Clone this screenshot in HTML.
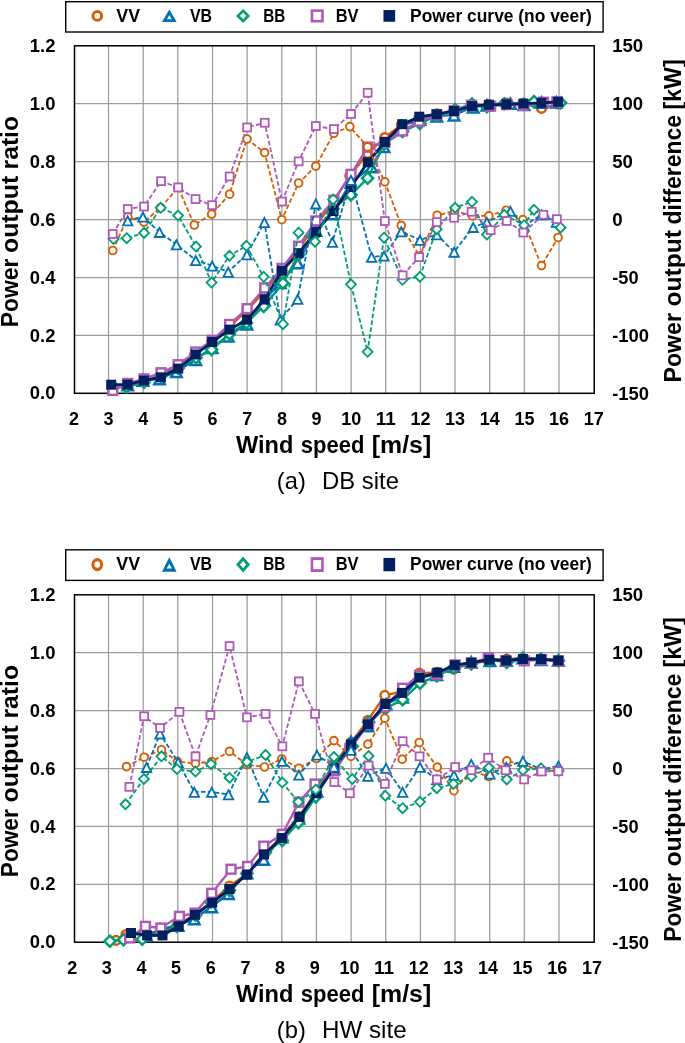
<!DOCTYPE html>
<html><head><meta charset="utf-8"><title>Power output ratio charts</title>
<style>
html,body{margin:0;padding:0;background:#fff;overflow:hidden}
svg{display:block;will-change:transform}
text{font-family:"Liberation Sans",sans-serif;fill:#000}
</style></head>
<body>
<svg width="685" height="1043" viewBox="0 0 685 1043">
<rect width="685" height="1043" fill="#fff"/>
<path d="M108.5,45.8V393.3M143.2,45.8V393.3M177.8,45.8V393.3M212.5,45.8V393.3M247.1,45.8V393.3M281.8,45.8V393.3M316.4,45.8V393.3M351.1,45.8V393.3M385.7,45.8V393.3M420.4,45.8V393.3M455.0,45.8V393.3M489.7,45.8V393.3M524.3,45.8V393.3M559.0,45.8V393.3M74.5,103.7H594.2M74.5,161.6H594.2M74.5,219.6H594.2M74.5,277.5H594.2M74.5,335.4H594.2" stroke="#9c9c9c" stroke-width="1.25" fill="none"/>
<rect x="74.5" y="45.8" width="519.7" height="347.5" fill="none" stroke="#000" stroke-width="1.5"/>
<path d="M112.8,388.4 L127.8,384.4 L143.9,380.8 L160.7,375.9 L178.2,364.8 L194.3,355.2 L211.7,341.4 L229.6,326.6 L247.0,310.1 L264.6,291.5 L281.8,270.6 L298.6,248.8 L315.8,225.7 L333.9,200.7 L349.8,175.9 L367.6,153.6 L384.8,137.5 L401.3,124.9 L419.4,121.1 L437.2,113.8 L454.6,110.0 L472.5,105.7 L488.9,104.4 L506.2,103.2 L522.9,103.6 L541.5,108.4 L558.1,104.0" fill="none" stroke="#D55E00" stroke-width="2.4" stroke-linejoin="round"/><circle cx="112.8" cy="388.4" r="4.31" fill="#fff" stroke="#D55E00" stroke-width="2.55"/><circle cx="127.8" cy="384.4" r="4.31" fill="#fff" stroke="#D55E00" stroke-width="2.55"/><circle cx="143.9" cy="380.8" r="4.31" fill="#fff" stroke="#D55E00" stroke-width="2.55"/><circle cx="160.7" cy="375.9" r="4.31" fill="#fff" stroke="#D55E00" stroke-width="2.55"/><circle cx="178.2" cy="364.8" r="4.31" fill="#fff" stroke="#D55E00" stroke-width="2.55"/><circle cx="194.3" cy="355.2" r="4.31" fill="#fff" stroke="#D55E00" stroke-width="2.55"/><circle cx="211.7" cy="341.4" r="4.31" fill="#fff" stroke="#D55E00" stroke-width="2.55"/><circle cx="229.6" cy="326.6" r="4.31" fill="#fff" stroke="#D55E00" stroke-width="2.55"/><circle cx="247.0" cy="310.1" r="4.31" fill="#fff" stroke="#D55E00" stroke-width="2.55"/><circle cx="264.6" cy="291.5" r="4.31" fill="#fff" stroke="#D55E00" stroke-width="2.55"/><circle cx="281.8" cy="270.6" r="4.31" fill="#fff" stroke="#D55E00" stroke-width="2.55"/><circle cx="298.6" cy="248.8" r="4.31" fill="#fff" stroke="#D55E00" stroke-width="2.55"/><circle cx="315.8" cy="225.7" r="4.31" fill="#fff" stroke="#D55E00" stroke-width="2.55"/><circle cx="333.9" cy="200.7" r="4.31" fill="#fff" stroke="#D55E00" stroke-width="2.55"/><circle cx="349.8" cy="175.9" r="4.31" fill="#fff" stroke="#D55E00" stroke-width="2.55"/><circle cx="367.6" cy="153.6" r="4.31" fill="#fff" stroke="#D55E00" stroke-width="2.55"/><circle cx="384.8" cy="137.5" r="4.31" fill="#fff" stroke="#D55E00" stroke-width="2.55"/><circle cx="401.3" cy="124.9" r="4.31" fill="#fff" stroke="#D55E00" stroke-width="2.55"/><circle cx="419.4" cy="121.1" r="4.31" fill="#fff" stroke="#D55E00" stroke-width="2.55"/><circle cx="437.2" cy="113.8" r="4.31" fill="#fff" stroke="#D55E00" stroke-width="2.55"/><circle cx="454.6" cy="110.0" r="4.31" fill="#fff" stroke="#D55E00" stroke-width="2.55"/><circle cx="472.5" cy="105.7" r="4.31" fill="#fff" stroke="#D55E00" stroke-width="2.55"/><circle cx="488.9" cy="104.4" r="4.31" fill="#fff" stroke="#D55E00" stroke-width="2.55"/><circle cx="506.2" cy="103.2" r="4.31" fill="#fff" stroke="#D55E00" stroke-width="2.55"/><circle cx="522.9" cy="103.6" r="4.31" fill="#fff" stroke="#D55E00" stroke-width="2.55"/><circle cx="541.5" cy="108.4" r="4.31" fill="#fff" stroke="#D55E00" stroke-width="2.55"/><circle cx="558.1" cy="104.0" r="4.31" fill="#fff" stroke="#D55E00" stroke-width="2.55"/>
<path d="M127.7,384.8 L142.9,380.2 L159.5,378.8 L176.4,371.6 L195.7,359.4 L212.2,347.6 L228.2,335.9 L246.9,323.9 L264.4,299.8 L280.3,282.6 L297.7,262.8 L315.8,230.2 L332.4,213.7 L351.0,182.3 L371.6,166.8 L384.0,146.4 L401.3,125.7 L419.9,119.2 L436.7,116.1 L454.1,114.9 L473.2,107.0 L486.9,105.1 L510.4,103.3 L524.0,104.4 L541.5,102.2 L556.4,102.1" fill="none" stroke="#0072B2" stroke-width="2.4" stroke-linejoin="round"/><path d="M127.7,380.1l5.26,10.19h-10.53z" fill="#fff" stroke="#0072B2" stroke-width="2.5"/><path d="M142.9,375.5l5.26,10.19h-10.53z" fill="#fff" stroke="#0072B2" stroke-width="2.5"/><path d="M159.5,374.1l5.26,10.19h-10.53z" fill="#fff" stroke="#0072B2" stroke-width="2.5"/><path d="M176.4,366.9l5.26,10.19h-10.53z" fill="#fff" stroke="#0072B2" stroke-width="2.5"/><path d="M195.7,354.7l5.26,10.19h-10.53z" fill="#fff" stroke="#0072B2" stroke-width="2.5"/><path d="M212.2,342.9l5.26,10.19h-10.53z" fill="#fff" stroke="#0072B2" stroke-width="2.5"/><path d="M228.2,331.2l5.26,10.19h-10.53z" fill="#fff" stroke="#0072B2" stroke-width="2.5"/><path d="M246.9,319.2l5.26,10.19h-10.53z" fill="#fff" stroke="#0072B2" stroke-width="2.5"/><path d="M264.4,295.1l5.26,10.19h-10.53z" fill="#fff" stroke="#0072B2" stroke-width="2.5"/><path d="M280.3,277.9l5.26,10.19h-10.53z" fill="#fff" stroke="#0072B2" stroke-width="2.5"/><path d="M297.7,258.1l5.26,10.19h-10.53z" fill="#fff" stroke="#0072B2" stroke-width="2.5"/><path d="M315.8,225.5l5.26,10.19h-10.53z" fill="#fff" stroke="#0072B2" stroke-width="2.5"/><path d="M332.4,209.0l5.26,10.19h-10.53z" fill="#fff" stroke="#0072B2" stroke-width="2.5"/><path d="M351.0,177.6l5.26,10.19h-10.53z" fill="#fff" stroke="#0072B2" stroke-width="2.5"/><path d="M371.6,162.1l5.26,10.19h-10.53z" fill="#fff" stroke="#0072B2" stroke-width="2.5"/><path d="M384.0,141.7l5.26,10.19h-10.53z" fill="#fff" stroke="#0072B2" stroke-width="2.5"/><path d="M401.3,121.0l5.26,10.19h-10.53z" fill="#fff" stroke="#0072B2" stroke-width="2.5"/><path d="M419.9,114.5l5.26,10.19h-10.53z" fill="#fff" stroke="#0072B2" stroke-width="2.5"/><path d="M436.7,111.4l5.26,10.19h-10.53z" fill="#fff" stroke="#0072B2" stroke-width="2.5"/><path d="M454.1,110.2l5.26,10.19h-10.53z" fill="#fff" stroke="#0072B2" stroke-width="2.5"/><path d="M473.2,102.3l5.26,10.19h-10.53z" fill="#fff" stroke="#0072B2" stroke-width="2.5"/><path d="M486.9,100.4l5.26,10.19h-10.53z" fill="#fff" stroke="#0072B2" stroke-width="2.5"/><path d="M510.4,98.6l5.26,10.19h-10.53z" fill="#fff" stroke="#0072B2" stroke-width="2.5"/><path d="M524.0,99.7l5.26,10.19h-10.53z" fill="#fff" stroke="#0072B2" stroke-width="2.5"/><path d="M541.5,97.5l5.26,10.19h-10.53z" fill="#fff" stroke="#0072B2" stroke-width="2.5"/><path d="M556.4,97.4l5.26,10.19h-10.53z" fill="#fff" stroke="#0072B2" stroke-width="2.5"/>
<path d="M113.6,387.1 L126.7,387.0 L144.1,382.1 L160.7,375.9 L178.1,368.1 L196.0,357.8 L211.6,349.6 L229.5,334.0 L246.4,322.9 L263.7,306.4 L283.0,283.2 L298.6,254.8 L315.0,234.8 L333.1,208.6 L351.0,194.8 L367.6,178.2 L384.0,144.2 L402.5,131.5 L419.9,123.6 L436.7,115.5 L455.1,109.6 L472.0,104.0 L486.9,106.6 L504.2,103.7 L524.1,104.3 L534.0,101.6 L560.6,102.8" fill="none" stroke="#009E73" stroke-width="2.4" stroke-linejoin="round"/><path d="M113.6,381.5l5.54,5.54l-5.54,5.54l-5.54,-5.54z" fill="#fff" stroke="#009E73" stroke-width="2.5"/><path d="M126.7,381.4l5.54,5.54l-5.54,5.54l-5.54,-5.54z" fill="#fff" stroke="#009E73" stroke-width="2.5"/><path d="M144.1,376.6l5.54,5.54l-5.54,5.54l-5.54,-5.54z" fill="#fff" stroke="#009E73" stroke-width="2.5"/><path d="M160.7,370.4l5.54,5.54l-5.54,5.54l-5.54,-5.54z" fill="#fff" stroke="#009E73" stroke-width="2.5"/><path d="M178.1,362.6l5.54,5.54l-5.54,5.54l-5.54,-5.54z" fill="#fff" stroke="#009E73" stroke-width="2.5"/><path d="M196.0,352.2l5.54,5.54l-5.54,5.54l-5.54,-5.54z" fill="#fff" stroke="#009E73" stroke-width="2.5"/><path d="M211.6,344.0l5.54,5.54l-5.54,5.54l-5.54,-5.54z" fill="#fff" stroke="#009E73" stroke-width="2.5"/><path d="M229.5,328.4l5.54,5.54l-5.54,5.54l-5.54,-5.54z" fill="#fff" stroke="#009E73" stroke-width="2.5"/><path d="M246.4,317.3l5.54,5.54l-5.54,5.54l-5.54,-5.54z" fill="#fff" stroke="#009E73" stroke-width="2.5"/><path d="M263.7,300.9l5.54,5.54l-5.54,5.54l-5.54,-5.54z" fill="#fff" stroke="#009E73" stroke-width="2.5"/><path d="M283.0,277.6l5.54,5.54l-5.54,5.54l-5.54,-5.54z" fill="#fff" stroke="#009E73" stroke-width="2.5"/><path d="M298.6,249.3l5.54,5.54l-5.54,5.54l-5.54,-5.54z" fill="#fff" stroke="#009E73" stroke-width="2.5"/><path d="M315.0,229.2l5.54,5.54l-5.54,5.54l-5.54,-5.54z" fill="#fff" stroke="#009E73" stroke-width="2.5"/><path d="M333.1,203.1l5.54,5.54l-5.54,5.54l-5.54,-5.54z" fill="#fff" stroke="#009E73" stroke-width="2.5"/><path d="M351.0,189.3l5.54,5.54l-5.54,5.54l-5.54,-5.54z" fill="#fff" stroke="#009E73" stroke-width="2.5"/><path d="M367.6,172.7l5.54,5.54l-5.54,5.54l-5.54,-5.54z" fill="#fff" stroke="#009E73" stroke-width="2.5"/><path d="M384.0,138.7l5.54,5.54l-5.54,5.54l-5.54,-5.54z" fill="#fff" stroke="#009E73" stroke-width="2.5"/><path d="M402.5,125.9l5.54,5.54l-5.54,5.54l-5.54,-5.54z" fill="#fff" stroke="#009E73" stroke-width="2.5"/><path d="M419.9,118.0l5.54,5.54l-5.54,5.54l-5.54,-5.54z" fill="#fff" stroke="#009E73" stroke-width="2.5"/><path d="M436.7,109.9l5.54,5.54l-5.54,5.54l-5.54,-5.54z" fill="#fff" stroke="#009E73" stroke-width="2.5"/><path d="M455.1,104.1l5.54,5.54l-5.54,5.54l-5.54,-5.54z" fill="#fff" stroke="#009E73" stroke-width="2.5"/><path d="M472.0,98.5l5.54,5.54l-5.54,5.54l-5.54,-5.54z" fill="#fff" stroke="#009E73" stroke-width="2.5"/><path d="M486.9,101.1l5.54,5.54l-5.54,5.54l-5.54,-5.54z" fill="#fff" stroke="#009E73" stroke-width="2.5"/><path d="M504.2,98.2l5.54,5.54l-5.54,5.54l-5.54,-5.54z" fill="#fff" stroke="#009E73" stroke-width="2.5"/><path d="M524.1,98.8l5.54,5.54l-5.54,5.54l-5.54,-5.54z" fill="#fff" stroke="#009E73" stroke-width="2.5"/><path d="M534.0,96.1l5.54,5.54l-5.54,5.54l-5.54,-5.54z" fill="#fff" stroke="#009E73" stroke-width="2.5"/><path d="M560.6,97.3l5.54,5.54l-5.54,5.54l-5.54,-5.54z" fill="#fff" stroke="#009E73" stroke-width="2.5"/>
<path d="M112.8,390.4 L127.7,383.5 L144.0,379.0 L161.0,372.7 L178.1,364.8 L195.5,352.1 L212.1,340.3 L229.6,324.5 L247.1,308.7 L264.7,287.9 L282.0,268.5 L298.6,246.2 L315.8,220.9 L333.9,200.2 L351.0,174.4 L367.6,147.1 L384.8,142.2 L402.6,130.9 L419.1,121.2 L436.7,114.6 L454.1,110.8 L471.5,105.2 L490.6,106.1 L506.7,104.5 L523.4,105.2 L543.5,102.2 L556.9,101.8" fill="none" stroke="#AF58BA" stroke-width="2.4" stroke-linejoin="round"/><rect x="108.4" y="386.0" width="8.85" height="8.85" fill="#fff" stroke="#AF58BA" stroke-width="2.45"/><rect x="123.3" y="379.0" width="8.85" height="8.85" fill="#fff" stroke="#AF58BA" stroke-width="2.45"/><rect x="139.6" y="374.5" width="8.85" height="8.85" fill="#fff" stroke="#AF58BA" stroke-width="2.45"/><rect x="156.6" y="368.3" width="8.85" height="8.85" fill="#fff" stroke="#AF58BA" stroke-width="2.45"/><rect x="173.7" y="360.3" width="8.85" height="8.85" fill="#fff" stroke="#AF58BA" stroke-width="2.45"/><rect x="191.1" y="347.6" width="8.85" height="8.85" fill="#fff" stroke="#AF58BA" stroke-width="2.45"/><rect x="207.7" y="335.9" width="8.85" height="8.85" fill="#fff" stroke="#AF58BA" stroke-width="2.45"/><rect x="225.2" y="320.0" width="8.85" height="8.85" fill="#fff" stroke="#AF58BA" stroke-width="2.45"/><rect x="242.7" y="304.2" width="8.85" height="8.85" fill="#fff" stroke="#AF58BA" stroke-width="2.45"/><rect x="260.3" y="283.5" width="8.85" height="8.85" fill="#fff" stroke="#AF58BA" stroke-width="2.45"/><rect x="277.6" y="264.0" width="8.85" height="8.85" fill="#fff" stroke="#AF58BA" stroke-width="2.45"/><rect x="294.2" y="241.8" width="8.85" height="8.85" fill="#fff" stroke="#AF58BA" stroke-width="2.45"/><rect x="311.4" y="216.5" width="8.85" height="8.85" fill="#fff" stroke="#AF58BA" stroke-width="2.45"/><rect x="329.5" y="195.8" width="8.85" height="8.85" fill="#fff" stroke="#AF58BA" stroke-width="2.45"/><rect x="346.6" y="169.9" width="8.85" height="8.85" fill="#fff" stroke="#AF58BA" stroke-width="2.45"/><rect x="363.2" y="142.7" width="8.85" height="8.85" fill="#fff" stroke="#AF58BA" stroke-width="2.45"/><rect x="380.4" y="137.8" width="8.85" height="8.85" fill="#fff" stroke="#AF58BA" stroke-width="2.45"/><rect x="398.2" y="126.5" width="8.85" height="8.85" fill="#fff" stroke="#AF58BA" stroke-width="2.45"/><rect x="414.7" y="116.8" width="8.85" height="8.85" fill="#fff" stroke="#AF58BA" stroke-width="2.45"/><rect x="432.3" y="110.2" width="8.85" height="8.85" fill="#fff" stroke="#AF58BA" stroke-width="2.45"/><rect x="449.7" y="106.4" width="8.85" height="8.85" fill="#fff" stroke="#AF58BA" stroke-width="2.45"/><rect x="467.1" y="100.8" width="8.85" height="8.85" fill="#fff" stroke="#AF58BA" stroke-width="2.45"/><rect x="486.2" y="101.7" width="8.85" height="8.85" fill="#fff" stroke="#AF58BA" stroke-width="2.45"/><rect x="502.3" y="100.1" width="8.85" height="8.85" fill="#fff" stroke="#AF58BA" stroke-width="2.45"/><rect x="519.0" y="100.8" width="8.85" height="8.85" fill="#fff" stroke="#AF58BA" stroke-width="2.45"/><rect x="539.1" y="97.8" width="8.85" height="8.85" fill="#fff" stroke="#AF58BA" stroke-width="2.45"/><rect x="552.5" y="97.4" width="8.85" height="8.85" fill="#fff" stroke="#AF58BA" stroke-width="2.45"/>
<path d="M111.2,384.7 L127.5,384.7 L143.9,380.5 L160.9,377.3 L178.2,368.6 L195.6,354.5 L212.1,342.0 L229.5,329.6 L247.0,319.7 L264.6,299.5 L282.0,270.6 L298.6,253.2 L315.8,232.1 L333.5,211.0 L351.0,187.0 L367.8,162.3 L384.8,142.0 L402.2,124.2 L419.3,116.7 L436.8,114.3 L454.0,111.0 L472.0,106.1 L488.9,104.8 L506.4,104.3 L523.6,103.6 L541.5,102.8 L558.1,101.8" fill="none" stroke="#002060" stroke-width="2.8" stroke-linejoin="round"/><rect x="106.2" y="379.7" width="10" height="10" fill="#002060"/><rect x="122.5" y="379.7" width="10" height="10" fill="#002060"/><rect x="138.9" y="375.5" width="10" height="10" fill="#002060"/><rect x="155.9" y="372.3" width="10" height="10" fill="#002060"/><rect x="173.2" y="363.6" width="10" height="10" fill="#002060"/><rect x="190.6" y="349.5" width="10" height="10" fill="#002060"/><rect x="207.1" y="337.0" width="10" height="10" fill="#002060"/><rect x="224.5" y="324.6" width="10" height="10" fill="#002060"/><rect x="242.0" y="314.7" width="10" height="10" fill="#002060"/><rect x="259.6" y="294.5" width="10" height="10" fill="#002060"/><rect x="277.0" y="265.6" width="10" height="10" fill="#002060"/><rect x="293.6" y="248.2" width="10" height="10" fill="#002060"/><rect x="310.8" y="227.1" width="10" height="10" fill="#002060"/><rect x="328.5" y="206.0" width="10" height="10" fill="#002060"/><rect x="346.0" y="182.0" width="10" height="10" fill="#002060"/><rect x="362.8" y="157.3" width="10" height="10" fill="#002060"/><rect x="379.8" y="137.0" width="10" height="10" fill="#002060"/><rect x="397.2" y="119.2" width="10" height="10" fill="#002060"/><rect x="414.3" y="111.7" width="10" height="10" fill="#002060"/><rect x="431.8" y="109.3" width="10" height="10" fill="#002060"/><rect x="449.0" y="106.0" width="10" height="10" fill="#002060"/><rect x="467.0" y="101.1" width="10" height="10" fill="#002060"/><rect x="483.9" y="99.8" width="10" height="10" fill="#002060"/><rect x="501.4" y="99.3" width="10" height="10" fill="#002060"/><rect x="518.6" y="98.6" width="10" height="10" fill="#002060"/><rect x="536.5" y="97.8" width="10" height="10" fill="#002060"/><rect x="553.1" y="96.8" width="10" height="10" fill="#002060"/>
<path d="M112.8,250.5 L127.8,217.0 L143.9,222.0 L160.7,207.6 L178.2,187.4 L194.3,225.0 L211.7,214.1 L229.6,194.2 L247.0,139.0 L264.6,152.6 L281.8,219.7 L298.6,183.0 L315.8,166.1 L333.9,133.3 L349.8,126.6 L367.6,146.9 L384.8,181.8 L401.3,225.5 L419.4,256.0 L437.2,215.2 L454.6,211.0 L472.5,215.9 L488.9,215.9 L506.2,210.2 L522.9,219.6 L541.5,265.6 L558.1,237.5" fill="none" stroke="#D55E00" stroke-width="1.8" stroke-dasharray="4.6 2.3" stroke-linejoin="round"/><circle cx="112.8" cy="250.5" r="3.85" fill="#fff" stroke="#D55E00" stroke-width="1.9"/><circle cx="127.8" cy="217.0" r="3.85" fill="#fff" stroke="#D55E00" stroke-width="1.9"/><circle cx="143.9" cy="222.0" r="3.85" fill="#fff" stroke="#D55E00" stroke-width="1.9"/><circle cx="160.7" cy="207.6" r="3.85" fill="#fff" stroke="#D55E00" stroke-width="1.9"/><circle cx="178.2" cy="187.4" r="3.85" fill="#fff" stroke="#D55E00" stroke-width="1.9"/><circle cx="194.3" cy="225.0" r="3.85" fill="#fff" stroke="#D55E00" stroke-width="1.9"/><circle cx="211.7" cy="214.1" r="3.85" fill="#fff" stroke="#D55E00" stroke-width="1.9"/><circle cx="229.6" cy="194.2" r="3.85" fill="#fff" stroke="#D55E00" stroke-width="1.9"/><circle cx="247.0" cy="139.0" r="3.85" fill="#fff" stroke="#D55E00" stroke-width="1.9"/><circle cx="264.6" cy="152.6" r="3.85" fill="#fff" stroke="#D55E00" stroke-width="1.9"/><circle cx="281.8" cy="219.7" r="3.85" fill="#fff" stroke="#D55E00" stroke-width="1.9"/><circle cx="298.6" cy="183.0" r="3.85" fill="#fff" stroke="#D55E00" stroke-width="1.9"/><circle cx="315.8" cy="166.1" r="3.85" fill="#fff" stroke="#D55E00" stroke-width="1.9"/><circle cx="333.9" cy="133.3" r="3.85" fill="#fff" stroke="#D55E00" stroke-width="1.9"/><circle cx="349.8" cy="126.6" r="3.85" fill="#fff" stroke="#D55E00" stroke-width="1.9"/><circle cx="367.6" cy="146.9" r="3.85" fill="#fff" stroke="#D55E00" stroke-width="1.9"/><circle cx="384.8" cy="181.8" r="3.85" fill="#fff" stroke="#D55E00" stroke-width="1.9"/><circle cx="401.3" cy="225.5" r="3.85" fill="#fff" stroke="#D55E00" stroke-width="1.9"/><circle cx="419.4" cy="256.0" r="3.85" fill="#fff" stroke="#D55E00" stroke-width="1.9"/><circle cx="437.2" cy="215.2" r="3.85" fill="#fff" stroke="#D55E00" stroke-width="1.9"/><circle cx="454.6" cy="211.0" r="3.85" fill="#fff" stroke="#D55E00" stroke-width="1.9"/><circle cx="472.5" cy="215.9" r="3.85" fill="#fff" stroke="#D55E00" stroke-width="1.9"/><circle cx="488.9" cy="215.9" r="3.85" fill="#fff" stroke="#D55E00" stroke-width="1.9"/><circle cx="506.2" cy="210.2" r="3.85" fill="#fff" stroke="#D55E00" stroke-width="1.9"/><circle cx="522.9" cy="219.6" r="3.85" fill="#fff" stroke="#D55E00" stroke-width="1.9"/><circle cx="541.5" cy="265.6" r="3.85" fill="#fff" stroke="#D55E00" stroke-width="1.9"/><circle cx="558.1" cy="237.5" r="3.85" fill="#fff" stroke="#D55E00" stroke-width="1.9"/>
<path d="M127.7,220.5 L142.9,216.7 L159.5,232.1 L176.4,244.5 L195.7,260.2 L212.2,265.7 L228.2,271.9 L246.9,254.5 L264.4,222.2 L280.3,319.6 L297.7,299.0 L315.8,203.6 L332.4,242.0 L351.0,180.0 L371.6,256.9 L384.0,255.7 L401.3,231.5 L419.9,240.0 L436.7,234.5 L454.1,251.9 L473.2,227.1 L486.9,222.1 L510.4,211.0 L524.0,225.8 L541.5,214.7 L556.4,222.0" fill="none" stroke="#0072B2" stroke-width="1.8" stroke-dasharray="4.6 2.3" stroke-linejoin="round"/><path d="M127.7,216.3l4.70,9.10h-9.40z" fill="#fff" stroke="#0072B2" stroke-width="1.85"/><path d="M142.9,212.5l4.70,9.10h-9.40z" fill="#fff" stroke="#0072B2" stroke-width="1.85"/><path d="M159.5,227.9l4.70,9.10h-9.40z" fill="#fff" stroke="#0072B2" stroke-width="1.85"/><path d="M176.4,240.3l4.70,9.10h-9.40z" fill="#fff" stroke="#0072B2" stroke-width="1.85"/><path d="M195.7,256.0l4.70,9.10h-9.40z" fill="#fff" stroke="#0072B2" stroke-width="1.85"/><path d="M212.2,261.5l4.70,9.10h-9.40z" fill="#fff" stroke="#0072B2" stroke-width="1.85"/><path d="M228.2,267.7l4.70,9.10h-9.40z" fill="#fff" stroke="#0072B2" stroke-width="1.85"/><path d="M246.9,250.3l4.70,9.10h-9.40z" fill="#fff" stroke="#0072B2" stroke-width="1.85"/><path d="M264.4,218.0l4.70,9.10h-9.40z" fill="#fff" stroke="#0072B2" stroke-width="1.85"/><path d="M280.3,315.4l4.70,9.10h-9.40z" fill="#fff" stroke="#0072B2" stroke-width="1.85"/><path d="M297.7,294.8l4.70,9.10h-9.40z" fill="#fff" stroke="#0072B2" stroke-width="1.85"/><path d="M315.8,199.4l4.70,9.10h-9.40z" fill="#fff" stroke="#0072B2" stroke-width="1.85"/><path d="M332.4,237.8l4.70,9.10h-9.40z" fill="#fff" stroke="#0072B2" stroke-width="1.85"/><path d="M351.0,175.8l4.70,9.10h-9.40z" fill="#fff" stroke="#0072B2" stroke-width="1.85"/><path d="M371.6,252.7l4.70,9.10h-9.40z" fill="#fff" stroke="#0072B2" stroke-width="1.85"/><path d="M384.0,251.5l4.70,9.10h-9.40z" fill="#fff" stroke="#0072B2" stroke-width="1.85"/><path d="M401.3,227.3l4.70,9.10h-9.40z" fill="#fff" stroke="#0072B2" stroke-width="1.85"/><path d="M419.9,235.8l4.70,9.10h-9.40z" fill="#fff" stroke="#0072B2" stroke-width="1.85"/><path d="M436.7,230.3l4.70,9.10h-9.40z" fill="#fff" stroke="#0072B2" stroke-width="1.85"/><path d="M454.1,247.7l4.70,9.10h-9.40z" fill="#fff" stroke="#0072B2" stroke-width="1.85"/><path d="M473.2,222.9l4.70,9.10h-9.40z" fill="#fff" stroke="#0072B2" stroke-width="1.85"/><path d="M486.9,217.9l4.70,9.10h-9.40z" fill="#fff" stroke="#0072B2" stroke-width="1.85"/><path d="M510.4,206.8l4.70,9.10h-9.40z" fill="#fff" stroke="#0072B2" stroke-width="1.85"/><path d="M524.0,221.6l4.70,9.10h-9.40z" fill="#fff" stroke="#0072B2" stroke-width="1.85"/><path d="M541.5,210.5l4.70,9.10h-9.40z" fill="#fff" stroke="#0072B2" stroke-width="1.85"/><path d="M556.4,217.8l4.70,9.10h-9.40z" fill="#fff" stroke="#0072B2" stroke-width="1.85"/>
<path d="M113.6,239.0 L126.7,238.1 L144.1,232.9 L160.7,207.8 L178.1,215.5 L196.0,246.5 L211.6,282.5 L229.5,255.7 L246.4,245.8 L263.7,276.8 L283.0,324.1 L298.6,232.6 L315.0,241.6 L333.1,199.4 L351.0,284.3 L367.6,351.9 L384.0,237.6 L402.5,279.8 L419.9,276.7 L436.7,229.1 L455.1,207.7 L472.0,201.8 L486.9,234.5 L504.2,214.7 L524.1,225.1 L534.0,209.7 L560.6,227.6" fill="none" stroke="#009E73" stroke-width="1.8" stroke-dasharray="4.6 2.3" stroke-linejoin="round"/><path d="M113.6,234.1l4.95,4.95l-4.95,4.95l-4.95,-4.95z" fill="#fff" stroke="#009E73" stroke-width="1.85"/><path d="M126.7,233.2l4.95,4.95l-4.95,4.95l-4.95,-4.95z" fill="#fff" stroke="#009E73" stroke-width="1.85"/><path d="M144.1,228.0l4.95,4.95l-4.95,4.95l-4.95,-4.95z" fill="#fff" stroke="#009E73" stroke-width="1.85"/><path d="M160.7,202.9l4.95,4.95l-4.95,4.95l-4.95,-4.95z" fill="#fff" stroke="#009E73" stroke-width="1.85"/><path d="M178.1,210.6l4.95,4.95l-4.95,4.95l-4.95,-4.95z" fill="#fff" stroke="#009E73" stroke-width="1.85"/><path d="M196.0,241.6l4.95,4.95l-4.95,4.95l-4.95,-4.95z" fill="#fff" stroke="#009E73" stroke-width="1.85"/><path d="M211.6,277.6l4.95,4.95l-4.95,4.95l-4.95,-4.95z" fill="#fff" stroke="#009E73" stroke-width="1.85"/><path d="M229.5,250.8l4.95,4.95l-4.95,4.95l-4.95,-4.95z" fill="#fff" stroke="#009E73" stroke-width="1.85"/><path d="M246.4,240.9l4.95,4.95l-4.95,4.95l-4.95,-4.95z" fill="#fff" stroke="#009E73" stroke-width="1.85"/><path d="M263.7,271.9l4.95,4.95l-4.95,4.95l-4.95,-4.95z" fill="#fff" stroke="#009E73" stroke-width="1.85"/><path d="M283.0,319.2l4.95,4.95l-4.95,4.95l-4.95,-4.95z" fill="#fff" stroke="#009E73" stroke-width="1.85"/><path d="M298.6,227.7l4.95,4.95l-4.95,4.95l-4.95,-4.95z" fill="#fff" stroke="#009E73" stroke-width="1.85"/><path d="M315.0,236.7l4.95,4.95l-4.95,4.95l-4.95,-4.95z" fill="#fff" stroke="#009E73" stroke-width="1.85"/><path d="M333.1,194.5l4.95,4.95l-4.95,4.95l-4.95,-4.95z" fill="#fff" stroke="#009E73" stroke-width="1.85"/><path d="M351.0,279.4l4.95,4.95l-4.95,4.95l-4.95,-4.95z" fill="#fff" stroke="#009E73" stroke-width="1.85"/><path d="M367.6,346.9l4.95,4.95l-4.95,4.95l-4.95,-4.95z" fill="#fff" stroke="#009E73" stroke-width="1.85"/><path d="M384.0,232.7l4.95,4.95l-4.95,4.95l-4.95,-4.95z" fill="#fff" stroke="#009E73" stroke-width="1.85"/><path d="M402.5,274.9l4.95,4.95l-4.95,4.95l-4.95,-4.95z" fill="#fff" stroke="#009E73" stroke-width="1.85"/><path d="M419.9,271.8l4.95,4.95l-4.95,4.95l-4.95,-4.95z" fill="#fff" stroke="#009E73" stroke-width="1.85"/><path d="M436.7,224.2l4.95,4.95l-4.95,4.95l-4.95,-4.95z" fill="#fff" stroke="#009E73" stroke-width="1.85"/><path d="M455.1,202.8l4.95,4.95l-4.95,4.95l-4.95,-4.95z" fill="#fff" stroke="#009E73" stroke-width="1.85"/><path d="M472.0,196.9l4.95,4.95l-4.95,4.95l-4.95,-4.95z" fill="#fff" stroke="#009E73" stroke-width="1.85"/><path d="M486.9,229.6l4.95,4.95l-4.95,4.95l-4.95,-4.95z" fill="#fff" stroke="#009E73" stroke-width="1.85"/><path d="M504.2,209.8l4.95,4.95l-4.95,4.95l-4.95,-4.95z" fill="#fff" stroke="#009E73" stroke-width="1.85"/><path d="M524.1,220.2l4.95,4.95l-4.95,4.95l-4.95,-4.95z" fill="#fff" stroke="#009E73" stroke-width="1.85"/><path d="M534.0,204.8l4.95,4.95l-4.95,4.95l-4.95,-4.95z" fill="#fff" stroke="#009E73" stroke-width="1.85"/><path d="M560.6,222.7l4.95,4.95l-4.95,4.95l-4.95,-4.95z" fill="#fff" stroke="#009E73" stroke-width="1.85"/>
<path d="M112.8,233.9 L127.7,209.0 L144.0,206.5 L161.0,181.2 L178.1,187.4 L195.5,199.0 L212.1,205.2 L229.6,176.4 L247.1,127.4 L264.7,122.7 L282.0,201.5 L298.6,161.3 L315.8,126.1 L333.9,129.1 L351.0,113.9 L367.6,92.8 L384.8,221.0 L402.6,275.3 L419.1,257.1 L436.7,222.1 L454.1,217.7 L471.5,211.7 L490.6,230.1 L506.7,220.9 L523.4,232.5 L543.5,214.7 L556.9,219.1" fill="none" stroke="#AF58BA" stroke-width="1.8" stroke-dasharray="4.6 2.3" stroke-linejoin="round"/><rect x="108.8" y="230.0" width="7.90" height="7.90" fill="#fff" stroke="#AF58BA" stroke-width="1.8"/><rect x="123.8" y="205.1" width="7.90" height="7.90" fill="#fff" stroke="#AF58BA" stroke-width="1.8"/><rect x="140.1" y="202.6" width="7.90" height="7.90" fill="#fff" stroke="#AF58BA" stroke-width="1.8"/><rect x="157.1" y="177.2" width="7.90" height="7.90" fill="#fff" stroke="#AF58BA" stroke-width="1.8"/><rect x="174.2" y="183.5" width="7.90" height="7.90" fill="#fff" stroke="#AF58BA" stroke-width="1.8"/><rect x="191.6" y="195.1" width="7.90" height="7.90" fill="#fff" stroke="#AF58BA" stroke-width="1.8"/><rect x="208.2" y="201.2" width="7.90" height="7.90" fill="#fff" stroke="#AF58BA" stroke-width="1.8"/><rect x="225.7" y="172.5" width="7.90" height="7.90" fill="#fff" stroke="#AF58BA" stroke-width="1.8"/><rect x="243.2" y="123.5" width="7.90" height="7.90" fill="#fff" stroke="#AF58BA" stroke-width="1.8"/><rect x="260.8" y="118.8" width="7.90" height="7.90" fill="#fff" stroke="#AF58BA" stroke-width="1.8"/><rect x="278.1" y="197.6" width="7.90" height="7.90" fill="#fff" stroke="#AF58BA" stroke-width="1.8"/><rect x="294.7" y="157.4" width="7.90" height="7.90" fill="#fff" stroke="#AF58BA" stroke-width="1.8"/><rect x="311.9" y="122.1" width="7.90" height="7.90" fill="#fff" stroke="#AF58BA" stroke-width="1.8"/><rect x="329.9" y="125.1" width="7.90" height="7.90" fill="#fff" stroke="#AF58BA" stroke-width="1.8"/><rect x="347.1" y="110.0" width="7.90" height="7.90" fill="#fff" stroke="#AF58BA" stroke-width="1.8"/><rect x="363.7" y="88.8" width="7.90" height="7.90" fill="#fff" stroke="#AF58BA" stroke-width="1.8"/><rect x="380.9" y="217.1" width="7.90" height="7.90" fill="#fff" stroke="#AF58BA" stroke-width="1.8"/><rect x="398.7" y="271.4" width="7.90" height="7.90" fill="#fff" stroke="#AF58BA" stroke-width="1.8"/><rect x="415.2" y="253.2" width="7.90" height="7.90" fill="#fff" stroke="#AF58BA" stroke-width="1.8"/><rect x="432.8" y="218.2" width="7.90" height="7.90" fill="#fff" stroke="#AF58BA" stroke-width="1.8"/><rect x="450.2" y="213.8" width="7.90" height="7.90" fill="#fff" stroke="#AF58BA" stroke-width="1.8"/><rect x="467.6" y="207.8" width="7.90" height="7.90" fill="#fff" stroke="#AF58BA" stroke-width="1.8"/><rect x="486.7" y="226.2" width="7.90" height="7.90" fill="#fff" stroke="#AF58BA" stroke-width="1.8"/><rect x="502.8" y="217.0" width="7.90" height="7.90" fill="#fff" stroke="#AF58BA" stroke-width="1.8"/><rect x="519.4" y="228.6" width="7.90" height="7.90" fill="#fff" stroke="#AF58BA" stroke-width="1.8"/><rect x="539.5" y="210.8" width="7.90" height="7.90" fill="#fff" stroke="#AF58BA" stroke-width="1.8"/><rect x="552.9" y="215.2" width="7.90" height="7.90" fill="#fff" stroke="#AF58BA" stroke-width="1.8"/>
<text x="55.4" y="51.9" font-size="18.4" font-weight="bold" text-anchor="end" textLength="25.6" lengthAdjust="spacingAndGlyphs">1.2</text>
<text x="55.4" y="109.8" font-size="18.4" font-weight="bold" text-anchor="end" textLength="25.6" lengthAdjust="spacingAndGlyphs">1.0</text>
<text x="55.4" y="167.7" font-size="18.4" font-weight="bold" text-anchor="end" textLength="25.6" lengthAdjust="spacingAndGlyphs">0.8</text>
<text x="55.4" y="225.7" font-size="18.4" font-weight="bold" text-anchor="end" textLength="25.6" lengthAdjust="spacingAndGlyphs">0.6</text>
<text x="55.4" y="283.6" font-size="18.4" font-weight="bold" text-anchor="end" textLength="25.6" lengthAdjust="spacingAndGlyphs">0.4</text>
<text x="55.4" y="341.5" font-size="18.4" font-weight="bold" text-anchor="end" textLength="25.6" lengthAdjust="spacingAndGlyphs">0.2</text>
<text x="55.4" y="399.4" font-size="18.4" font-weight="bold" text-anchor="end" textLength="25.6" lengthAdjust="spacingAndGlyphs">0.0</text>
<text x="612.2" y="52.1" font-size="18.4" font-weight="bold" textLength="31.0" lengthAdjust="spacingAndGlyphs">150</text>
<text x="612.2" y="110.0" font-size="18.4" font-weight="bold" textLength="31.0" lengthAdjust="spacingAndGlyphs">100</text>
<text x="612.2" y="167.9" font-size="18.4" font-weight="bold" textLength="20.7" lengthAdjust="spacingAndGlyphs">50</text>
<text x="612.2" y="225.9" font-size="18.4" font-weight="bold" textLength="10.4" lengthAdjust="spacingAndGlyphs">0</text>
<text x="612.2" y="283.8" font-size="18.4" font-weight="bold" textLength="26.4" lengthAdjust="spacingAndGlyphs">-50</text>
<text x="612.2" y="341.7" font-size="18.4" font-weight="bold" textLength="36.8" lengthAdjust="spacingAndGlyphs">-100</text>
<text x="612.2" y="399.6" font-size="18.4" font-weight="bold" textLength="36.8" lengthAdjust="spacingAndGlyphs">-150</text>
<text x="74.0" y="425.3" font-size="18.6" font-weight="bold" text-anchor="middle" textLength="10.0" lengthAdjust="spacingAndGlyphs">2</text>
<text x="108.6" y="425.3" font-size="18.6" font-weight="bold" text-anchor="middle" textLength="10.0" lengthAdjust="spacingAndGlyphs">3</text>
<text x="143.3" y="425.3" font-size="18.6" font-weight="bold" text-anchor="middle" textLength="10.0" lengthAdjust="spacingAndGlyphs">4</text>
<text x="177.9" y="425.3" font-size="18.6" font-weight="bold" text-anchor="middle" textLength="10.0" lengthAdjust="spacingAndGlyphs">5</text>
<text x="212.6" y="425.3" font-size="18.6" font-weight="bold" text-anchor="middle" textLength="10.0" lengthAdjust="spacingAndGlyphs">6</text>
<text x="247.2" y="425.3" font-size="18.6" font-weight="bold" text-anchor="middle" textLength="10.0" lengthAdjust="spacingAndGlyphs">7</text>
<text x="281.9" y="425.3" font-size="18.6" font-weight="bold" text-anchor="middle" textLength="10.0" lengthAdjust="spacingAndGlyphs">8</text>
<text x="316.5" y="425.3" font-size="18.6" font-weight="bold" text-anchor="middle" textLength="10.0" lengthAdjust="spacingAndGlyphs">9</text>
<text x="351.2" y="425.3" font-size="18.6" font-weight="bold" text-anchor="middle" textLength="20.0" lengthAdjust="spacingAndGlyphs">10</text>
<text x="385.8" y="425.3" font-size="18.6" font-weight="bold" text-anchor="middle" textLength="20.0" lengthAdjust="spacingAndGlyphs">11</text>
<text x="420.5" y="425.3" font-size="18.6" font-weight="bold" text-anchor="middle" textLength="20.0" lengthAdjust="spacingAndGlyphs">12</text>
<text x="455.1" y="425.3" font-size="18.6" font-weight="bold" text-anchor="middle" textLength="20.0" lengthAdjust="spacingAndGlyphs">13</text>
<text x="489.8" y="425.3" font-size="18.6" font-weight="bold" text-anchor="middle" textLength="20.0" lengthAdjust="spacingAndGlyphs">14</text>
<text x="524.4" y="425.3" font-size="18.6" font-weight="bold" text-anchor="middle" textLength="20.0" lengthAdjust="spacingAndGlyphs">15</text>
<text x="559.1" y="425.3" font-size="18.6" font-weight="bold" text-anchor="middle" textLength="20.0" lengthAdjust="spacingAndGlyphs">16</text>
<text x="593.7" y="425.3" font-size="18.6" font-weight="bold" text-anchor="middle" textLength="20.0" lengthAdjust="spacingAndGlyphs">17</text>
<text x="17.9" y="327.2" font-size="23.2" font-weight="bold" textLength="68.6" lengthAdjust="spacingAndGlyphs" transform="rotate(-90 17.9 327.2)">Power</text>
<text x="17.9" y="253.0" font-size="23.2" font-weight="bold" textLength="77.2" lengthAdjust="spacingAndGlyphs" transform="rotate(-90 17.9 253.0)">output</text>
<text x="17.9" y="169.4" font-size="23.2" font-weight="bold" textLength="53.4" lengthAdjust="spacingAndGlyphs" transform="rotate(-90 17.9 169.4)">ratio</text>
<text x="680.6" y="382.5" font-size="23.0" font-weight="bold" textLength="69.5" lengthAdjust="spacingAndGlyphs" transform="rotate(-90 680.6 382.5)">Power</text>
<text x="680.6" y="306.6" font-size="23.0" font-weight="bold" textLength="76.5" lengthAdjust="spacingAndGlyphs" transform="rotate(-90 680.6 306.6)">output</text>
<text x="680.6" y="224.6" font-size="23.0" font-weight="bold" textLength="109.5" lengthAdjust="spacingAndGlyphs" transform="rotate(-90 680.6 224.6)">difference</text>
<text x="680.6" y="109.4" font-size="23.0" font-weight="bold" textLength="50.0" lengthAdjust="spacingAndGlyphs" transform="rotate(-90 680.6 109.4)">[kW]</text>
<text x="236.0" y="452.8" font-size="24.3" font-weight="bold" textLength="57.4" lengthAdjust="spacingAndGlyphs">Wind</text>
<text x="300.8" y="452.8" font-size="24.3" font-weight="bold" textLength="63.6" lengthAdjust="spacingAndGlyphs">speed</text>
<text x="371.8" y="452.8" font-size="24.3" font-weight="bold" textLength="59.4" lengthAdjust="spacingAndGlyphs">[m/s]</text>
<text x="276.8" y="488.7" font-size="24" textLength="29.0" lengthAdjust="spacingAndGlyphs">(a)</text>
<text x="322.0" y="488.7" font-size="24" textLength="76.9" lengthAdjust="spacingAndGlyphs">DB site</text>
<rect x="65.7" y="1.7" width="537.4" height="30.3" fill="#fff" stroke="#000" stroke-width="1.4"/>
<g transform="translate(97.3 15.9) scale(1 1.0)"><circle r="4.35" fill="#fff" stroke="#D55E00" stroke-width="3"/></g><g transform="translate(169.3 15.9) scale(1 1.0)"><path d="M0,-3.7L4.9,4.8H-4.9Z" fill="#fff" stroke="#0072B2" stroke-width="2.8"/></g><g transform="translate(243.1 15.9) scale(1 1.0)"><path d="M0,-5.1L5.1,0L0,5.1L-5.1,0Z" fill="#fff" stroke="#009E73" stroke-width="2.7"/></g><g transform="translate(317.2 15.9) scale(1 1.0)"><rect x="-5.25" y="-5.25" width="10.5" height="10.5" fill="#fff" stroke="#AF58BA" stroke-width="2.6"/></g><g transform="translate(389.3 15.9) scale(1 1.0)"><rect x="-5.85" y="-5.85" width="11.7" height="11.7" fill="#002060"/></g>
<text x="116.3" y="21.8" font-size="18.8" font-weight="bold" textLength="23.8" lengthAdjust="spacingAndGlyphs">VV</text>
<text x="190.0" y="21.8" font-size="18.8" font-weight="bold" textLength="22.1" lengthAdjust="spacingAndGlyphs">VB</text>
<text x="263.2" y="21.8" font-size="18.8" font-weight="bold" textLength="22.1" lengthAdjust="spacingAndGlyphs">BB</text>
<text x="335.7" y="21.8" font-size="18.8" font-weight="bold" textLength="22.9" lengthAdjust="spacingAndGlyphs">BV</text>
<text x="410.1" y="21.8" font-size="18.8" font-weight="bold" textLength="181.6" lengthAdjust="spacingAndGlyphs">Power curve (no veer)</text>
<path d="M108.5,594.8V942.2M143.2,594.8V942.2M177.8,594.8V942.2M212.5,594.8V942.2M247.1,594.8V942.2M281.8,594.8V942.2M316.4,594.8V942.2M351.1,594.8V942.2M385.7,594.8V942.2M420.4,594.8V942.2M455.0,594.8V942.2M489.7,594.8V942.2M524.3,594.8V942.2M559.0,594.8V942.2M74.5,652.7H594.2M74.5,710.6H594.2M74.5,768.5H594.2M74.5,826.4H594.2M74.5,884.3H594.2" stroke="#9c9c9c" stroke-width="1.25" fill="none"/>
<rect x="74.5" y="594.8" width="519.7" height="347.4" fill="none" stroke="#000" stroke-width="1.5"/>
<path d="M116.1,940.4 L126.0,934.5 L144.1,933.5 L161.5,932.2 L177.4,925.1 L195.5,913.9 L211.7,901.5 L229.5,886.1 L246.9,873.9 L264.5,854.2 L281.8,836.4 L298.9,816.8 L316.5,791.6 L333.9,763.8 L351.0,742.4 L367.9,720.3 L384.8,695.4 L402.2,691.3 L419.3,673.2 L437.3,672.4 L453.9,669.0 L471.3,663.1 L488.9,661.1 L506.8,659.2 L522.9,658.3 L541.0,659.6 L558.4,660.9" fill="none" stroke="#D55E00" stroke-width="2.4" stroke-linejoin="round"/><circle cx="116.1" cy="940.4" r="4.31" fill="#fff" stroke="#D55E00" stroke-width="2.55"/><circle cx="126.0" cy="934.5" r="4.31" fill="#fff" stroke="#D55E00" stroke-width="2.55"/><circle cx="144.1" cy="933.5" r="4.31" fill="#fff" stroke="#D55E00" stroke-width="2.55"/><circle cx="161.5" cy="932.2" r="4.31" fill="#fff" stroke="#D55E00" stroke-width="2.55"/><circle cx="177.4" cy="925.1" r="4.31" fill="#fff" stroke="#D55E00" stroke-width="2.55"/><circle cx="195.5" cy="913.9" r="4.31" fill="#fff" stroke="#D55E00" stroke-width="2.55"/><circle cx="211.7" cy="901.5" r="4.31" fill="#fff" stroke="#D55E00" stroke-width="2.55"/><circle cx="229.5" cy="886.1" r="4.31" fill="#fff" stroke="#D55E00" stroke-width="2.55"/><circle cx="246.9" cy="873.9" r="4.31" fill="#fff" stroke="#D55E00" stroke-width="2.55"/><circle cx="264.5" cy="854.2" r="4.31" fill="#fff" stroke="#D55E00" stroke-width="2.55"/><circle cx="281.8" cy="836.4" r="4.31" fill="#fff" stroke="#D55E00" stroke-width="2.55"/><circle cx="298.9" cy="816.8" r="4.31" fill="#fff" stroke="#D55E00" stroke-width="2.55"/><circle cx="316.5" cy="791.6" r="4.31" fill="#fff" stroke="#D55E00" stroke-width="2.55"/><circle cx="333.9" cy="763.8" r="4.31" fill="#fff" stroke="#D55E00" stroke-width="2.55"/><circle cx="351.0" cy="742.4" r="4.31" fill="#fff" stroke="#D55E00" stroke-width="2.55"/><circle cx="367.9" cy="720.3" r="4.31" fill="#fff" stroke="#D55E00" stroke-width="2.55"/><circle cx="384.8" cy="695.4" r="4.31" fill="#fff" stroke="#D55E00" stroke-width="2.55"/><circle cx="402.2" cy="691.3" r="4.31" fill="#fff" stroke="#D55E00" stroke-width="2.55"/><circle cx="419.3" cy="673.2" r="4.31" fill="#fff" stroke="#D55E00" stroke-width="2.55"/><circle cx="437.3" cy="672.4" r="4.31" fill="#fff" stroke="#D55E00" stroke-width="2.55"/><circle cx="453.9" cy="669.0" r="4.31" fill="#fff" stroke="#D55E00" stroke-width="2.55"/><circle cx="471.3" cy="663.1" r="4.31" fill="#fff" stroke="#D55E00" stroke-width="2.55"/><circle cx="488.9" cy="661.1" r="4.31" fill="#fff" stroke="#D55E00" stroke-width="2.55"/><circle cx="506.8" cy="659.2" r="4.31" fill="#fff" stroke="#D55E00" stroke-width="2.55"/><circle cx="522.9" cy="658.3" r="4.31" fill="#fff" stroke="#D55E00" stroke-width="2.55"/><circle cx="541.0" cy="659.6" r="4.31" fill="#fff" stroke="#D55E00" stroke-width="2.55"/><circle cx="558.4" cy="660.9" r="4.31" fill="#fff" stroke="#D55E00" stroke-width="2.55"/>
<path d="M146.6,935.2 L160.0,929.5 L178.1,925.2 L194.3,918.8 L211.7,906.7 L228.5,893.4 L246.9,872.7 L263.7,859.3 L282.0,836.7 L298.9,818.0 L317.0,791.0 L334.0,768.2 L351.0,741.4 L367.9,725.7 L386.0,703.9 L402.6,696.9 L420.0,677.3 L436.8,674.5 L453.9,666.3 L471.3,662.0 L489.9,660.6 L506.3,660.3 L522.9,657.7 L541.0,659.4 L558.4,660.0" fill="none" stroke="#0072B2" stroke-width="2.4" stroke-linejoin="round"/><path d="M146.6,930.5l5.26,10.19h-10.53z" fill="#fff" stroke="#0072B2" stroke-width="2.5"/><path d="M160.0,924.8l5.26,10.19h-10.53z" fill="#fff" stroke="#0072B2" stroke-width="2.5"/><path d="M178.1,920.5l5.26,10.19h-10.53z" fill="#fff" stroke="#0072B2" stroke-width="2.5"/><path d="M194.3,914.1l5.26,10.19h-10.53z" fill="#fff" stroke="#0072B2" stroke-width="2.5"/><path d="M211.7,902.0l5.26,10.19h-10.53z" fill="#fff" stroke="#0072B2" stroke-width="2.5"/><path d="M228.5,888.7l5.26,10.19h-10.53z" fill="#fff" stroke="#0072B2" stroke-width="2.5"/><path d="M246.9,868.0l5.26,10.19h-10.53z" fill="#fff" stroke="#0072B2" stroke-width="2.5"/><path d="M263.7,854.6l5.26,10.19h-10.53z" fill="#fff" stroke="#0072B2" stroke-width="2.5"/><path d="M282.0,832.0l5.26,10.19h-10.53z" fill="#fff" stroke="#0072B2" stroke-width="2.5"/><path d="M298.9,813.2l5.26,10.19h-10.53z" fill="#fff" stroke="#0072B2" stroke-width="2.5"/><path d="M317.0,786.3l5.26,10.19h-10.53z" fill="#fff" stroke="#0072B2" stroke-width="2.5"/><path d="M334.0,763.5l5.26,10.19h-10.53z" fill="#fff" stroke="#0072B2" stroke-width="2.5"/><path d="M351.0,736.7l5.26,10.19h-10.53z" fill="#fff" stroke="#0072B2" stroke-width="2.5"/><path d="M367.9,721.0l5.26,10.19h-10.53z" fill="#fff" stroke="#0072B2" stroke-width="2.5"/><path d="M386.0,699.2l5.26,10.19h-10.53z" fill="#fff" stroke="#0072B2" stroke-width="2.5"/><path d="M402.6,692.2l5.26,10.19h-10.53z" fill="#fff" stroke="#0072B2" stroke-width="2.5"/><path d="M420.0,672.6l5.26,10.19h-10.53z" fill="#fff" stroke="#0072B2" stroke-width="2.5"/><path d="M436.8,669.8l5.26,10.19h-10.53z" fill="#fff" stroke="#0072B2" stroke-width="2.5"/><path d="M453.9,661.6l5.26,10.19h-10.53z" fill="#fff" stroke="#0072B2" stroke-width="2.5"/><path d="M471.3,657.2l5.26,10.19h-10.53z" fill="#fff" stroke="#0072B2" stroke-width="2.5"/><path d="M489.9,655.9l5.26,10.19h-10.53z" fill="#fff" stroke="#0072B2" stroke-width="2.5"/><path d="M506.3,655.6l5.26,10.19h-10.53z" fill="#fff" stroke="#0072B2" stroke-width="2.5"/><path d="M522.9,653.0l5.26,10.19h-10.53z" fill="#fff" stroke="#0072B2" stroke-width="2.5"/><path d="M541.0,654.7l5.26,10.19h-10.53z" fill="#fff" stroke="#0072B2" stroke-width="2.5"/><path d="M558.4,655.3l5.26,10.19h-10.53z" fill="#fff" stroke="#0072B2" stroke-width="2.5"/>
<path d="M109.9,941.2 L123.5,939.7 L142.2,939.2 L161.5,933.3 L176.9,926.4 L195.5,915.3 L210.9,902.0 L229.5,890.6 L246.9,873.5 L265.5,852.2 L282.3,840.4 L298.4,822.6 L315.8,796.9 L333.9,766.5 L352.3,746.3 L368.6,722.3 L385.3,708.6 L402.6,699.6 L420.0,683.3 L436.8,675.9 L453.4,667.8 L471.3,664.1 L488.9,659.5 L506.8,662.4 L522.9,659.3 L541.0,659.2 L558.4,660.9" fill="none" stroke="#009E73" stroke-width="2.4" stroke-linejoin="round"/><path d="M109.9,935.7l5.54,5.54l-5.54,5.54l-5.54,-5.54z" fill="#fff" stroke="#009E73" stroke-width="2.5"/><path d="M123.5,934.2l5.54,5.54l-5.54,5.54l-5.54,-5.54z" fill="#fff" stroke="#009E73" stroke-width="2.5"/><path d="M142.2,933.7l5.54,5.54l-5.54,5.54l-5.54,-5.54z" fill="#fff" stroke="#009E73" stroke-width="2.5"/><path d="M161.5,927.8l5.54,5.54l-5.54,5.54l-5.54,-5.54z" fill="#fff" stroke="#009E73" stroke-width="2.5"/><path d="M176.9,920.9l5.54,5.54l-5.54,5.54l-5.54,-5.54z" fill="#fff" stroke="#009E73" stroke-width="2.5"/><path d="M195.5,909.8l5.54,5.54l-5.54,5.54l-5.54,-5.54z" fill="#fff" stroke="#009E73" stroke-width="2.5"/><path d="M210.9,896.4l5.54,5.54l-5.54,5.54l-5.54,-5.54z" fill="#fff" stroke="#009E73" stroke-width="2.5"/><path d="M229.5,885.0l5.54,5.54l-5.54,5.54l-5.54,-5.54z" fill="#fff" stroke="#009E73" stroke-width="2.5"/><path d="M246.9,868.0l5.54,5.54l-5.54,5.54l-5.54,-5.54z" fill="#fff" stroke="#009E73" stroke-width="2.5"/><path d="M265.5,846.7l5.54,5.54l-5.54,5.54l-5.54,-5.54z" fill="#fff" stroke="#009E73" stroke-width="2.5"/><path d="M282.3,834.9l5.54,5.54l-5.54,5.54l-5.54,-5.54z" fill="#fff" stroke="#009E73" stroke-width="2.5"/><path d="M298.4,817.1l5.54,5.54l-5.54,5.54l-5.54,-5.54z" fill="#fff" stroke="#009E73" stroke-width="2.5"/><path d="M315.8,791.3l5.54,5.54l-5.54,5.54l-5.54,-5.54z" fill="#fff" stroke="#009E73" stroke-width="2.5"/><path d="M333.9,761.0l5.54,5.54l-5.54,5.54l-5.54,-5.54z" fill="#fff" stroke="#009E73" stroke-width="2.5"/><path d="M352.3,740.8l5.54,5.54l-5.54,5.54l-5.54,-5.54z" fill="#fff" stroke="#009E73" stroke-width="2.5"/><path d="M368.6,716.7l5.54,5.54l-5.54,5.54l-5.54,-5.54z" fill="#fff" stroke="#009E73" stroke-width="2.5"/><path d="M385.3,703.1l5.54,5.54l-5.54,5.54l-5.54,-5.54z" fill="#fff" stroke="#009E73" stroke-width="2.5"/><path d="M402.6,694.1l5.54,5.54l-5.54,5.54l-5.54,-5.54z" fill="#fff" stroke="#009E73" stroke-width="2.5"/><path d="M420.0,677.7l5.54,5.54l-5.54,5.54l-5.54,-5.54z" fill="#fff" stroke="#009E73" stroke-width="2.5"/><path d="M436.8,670.4l5.54,5.54l-5.54,5.54l-5.54,-5.54z" fill="#fff" stroke="#009E73" stroke-width="2.5"/><path d="M453.4,662.3l5.54,5.54l-5.54,5.54l-5.54,-5.54z" fill="#fff" stroke="#009E73" stroke-width="2.5"/><path d="M471.3,658.5l5.54,5.54l-5.54,5.54l-5.54,-5.54z" fill="#fff" stroke="#009E73" stroke-width="2.5"/><path d="M488.9,654.0l5.54,5.54l-5.54,5.54l-5.54,-5.54z" fill="#fff" stroke="#009E73" stroke-width="2.5"/><path d="M506.8,656.8l5.54,5.54l-5.54,5.54l-5.54,-5.54z" fill="#fff" stroke="#009E73" stroke-width="2.5"/><path d="M522.9,653.8l5.54,5.54l-5.54,5.54l-5.54,-5.54z" fill="#fff" stroke="#009E73" stroke-width="2.5"/><path d="M541.0,653.6l5.54,5.54l-5.54,5.54l-5.54,-5.54z" fill="#fff" stroke="#009E73" stroke-width="2.5"/><path d="M558.4,655.3l5.54,5.54l-5.54,5.54l-5.54,-5.54z" fill="#fff" stroke="#009E73" stroke-width="2.5"/>
<path d="M129.7,937.9 L145.4,926.3 L160.8,928.0 L179.4,916.3 L195.0,913.1 L211.7,893.3 L231.0,869.2 L247.6,866.4 L263.8,846.1 L282.3,834.2 L298.9,802.1 L315.0,784.0 L334.4,770.8 L349.8,748.7 L368.6,723.9 L384.8,706.6 L402.6,688.3 L419.5,675.5 L436.8,674.5 L455.2,665.0 L471.3,663.0 L488.2,657.9 L505.6,660.8 L524.2,660.9 L541.5,659.7 L558.4,661.0" fill="none" stroke="#AF58BA" stroke-width="2.4" stroke-linejoin="round"/><rect x="125.3" y="933.5" width="8.85" height="8.85" fill="#fff" stroke="#AF58BA" stroke-width="2.45"/><rect x="141.0" y="921.9" width="8.85" height="8.85" fill="#fff" stroke="#AF58BA" stroke-width="2.45"/><rect x="156.4" y="923.6" width="8.85" height="8.85" fill="#fff" stroke="#AF58BA" stroke-width="2.45"/><rect x="175.0" y="911.9" width="8.85" height="8.85" fill="#fff" stroke="#AF58BA" stroke-width="2.45"/><rect x="190.6" y="908.7" width="8.85" height="8.85" fill="#fff" stroke="#AF58BA" stroke-width="2.45"/><rect x="207.3" y="888.9" width="8.85" height="8.85" fill="#fff" stroke="#AF58BA" stroke-width="2.45"/><rect x="226.6" y="864.8" width="8.85" height="8.85" fill="#fff" stroke="#AF58BA" stroke-width="2.45"/><rect x="243.2" y="862.0" width="8.85" height="8.85" fill="#fff" stroke="#AF58BA" stroke-width="2.45"/><rect x="259.4" y="841.7" width="8.85" height="8.85" fill="#fff" stroke="#AF58BA" stroke-width="2.45"/><rect x="277.9" y="829.8" width="8.85" height="8.85" fill="#fff" stroke="#AF58BA" stroke-width="2.45"/><rect x="294.5" y="797.7" width="8.85" height="8.85" fill="#fff" stroke="#AF58BA" stroke-width="2.45"/><rect x="310.6" y="779.6" width="8.85" height="8.85" fill="#fff" stroke="#AF58BA" stroke-width="2.45"/><rect x="330.0" y="766.4" width="8.85" height="8.85" fill="#fff" stroke="#AF58BA" stroke-width="2.45"/><rect x="345.4" y="744.3" width="8.85" height="8.85" fill="#fff" stroke="#AF58BA" stroke-width="2.45"/><rect x="364.2" y="719.5" width="8.85" height="8.85" fill="#fff" stroke="#AF58BA" stroke-width="2.45"/><rect x="380.4" y="702.2" width="8.85" height="8.85" fill="#fff" stroke="#AF58BA" stroke-width="2.45"/><rect x="398.2" y="683.8" width="8.85" height="8.85" fill="#fff" stroke="#AF58BA" stroke-width="2.45"/><rect x="415.1" y="671.1" width="8.85" height="8.85" fill="#fff" stroke="#AF58BA" stroke-width="2.45"/><rect x="432.4" y="670.0" width="8.85" height="8.85" fill="#fff" stroke="#AF58BA" stroke-width="2.45"/><rect x="450.8" y="660.5" width="8.85" height="8.85" fill="#fff" stroke="#AF58BA" stroke-width="2.45"/><rect x="466.9" y="658.6" width="8.85" height="8.85" fill="#fff" stroke="#AF58BA" stroke-width="2.45"/><rect x="483.8" y="653.4" width="8.85" height="8.85" fill="#fff" stroke="#AF58BA" stroke-width="2.45"/><rect x="501.2" y="656.4" width="8.85" height="8.85" fill="#fff" stroke="#AF58BA" stroke-width="2.45"/><rect x="519.8" y="656.4" width="8.85" height="8.85" fill="#fff" stroke="#AF58BA" stroke-width="2.45"/><rect x="537.1" y="655.3" width="8.85" height="8.85" fill="#fff" stroke="#AF58BA" stroke-width="2.45"/><rect x="554.0" y="656.6" width="8.85" height="8.85" fill="#fff" stroke="#AF58BA" stroke-width="2.45"/>
<path d="M131.0,933.0 L147.1,935.4 L162.5,935.4 L178.6,926.3 L195.0,914.8 L212.2,902.7 L229.5,889.0 L246.9,874.6 L264.0,854.5 L281.8,838.0 L299.6,816.9 L316.5,793.3 L333.9,768.5 L351.0,744.5 L367.9,724.4 L385.3,704.0 L401.9,692.9 L419.5,677.6 L437.3,672.6 L454.7,665.2 L471.3,662.7 L489.4,659.7 L506.3,660.5 L522.9,659.0 L541.0,659.2 L558.4,660.5" fill="none" stroke="#002060" stroke-width="2.8" stroke-linejoin="round"/><rect x="126.0" y="928.0" width="10" height="10" fill="#002060"/><rect x="142.1" y="930.4" width="10" height="10" fill="#002060"/><rect x="157.5" y="930.4" width="10" height="10" fill="#002060"/><rect x="173.6" y="921.3" width="10" height="10" fill="#002060"/><rect x="190.0" y="909.8" width="10" height="10" fill="#002060"/><rect x="207.2" y="897.7" width="10" height="10" fill="#002060"/><rect x="224.5" y="884.0" width="10" height="10" fill="#002060"/><rect x="241.9" y="869.6" width="10" height="10" fill="#002060"/><rect x="259.0" y="849.5" width="10" height="10" fill="#002060"/><rect x="276.8" y="833.0" width="10" height="10" fill="#002060"/><rect x="294.6" y="811.9" width="10" height="10" fill="#002060"/><rect x="311.5" y="788.3" width="10" height="10" fill="#002060"/><rect x="328.9" y="763.5" width="10" height="10" fill="#002060"/><rect x="346.0" y="739.5" width="10" height="10" fill="#002060"/><rect x="362.9" y="719.4" width="10" height="10" fill="#002060"/><rect x="380.3" y="699.0" width="10" height="10" fill="#002060"/><rect x="396.9" y="687.9" width="10" height="10" fill="#002060"/><rect x="414.5" y="672.6" width="10" height="10" fill="#002060"/><rect x="432.3" y="667.6" width="10" height="10" fill="#002060"/><rect x="449.7" y="660.2" width="10" height="10" fill="#002060"/><rect x="466.3" y="657.7" width="10" height="10" fill="#002060"/><rect x="484.4" y="654.7" width="10" height="10" fill="#002060"/><rect x="501.3" y="655.5" width="10" height="10" fill="#002060"/><rect x="517.9" y="654.0" width="10" height="10" fill="#002060"/><rect x="536.0" y="654.2" width="10" height="10" fill="#002060"/><rect x="553.4" y="655.5" width="10" height="10" fill="#002060"/>
<path d="M126.5,766.6 L144.1,757.2 L161.5,749.7 L177.4,761.6 L195.5,763.4 L211.7,761.6 L229.5,751.4 L246.9,764.6 L264.5,767.0 L281.8,759.0 L298.9,768.2 L316.5,758.5 L333.9,740.6 L351.0,756.4 L367.9,744.1 L384.8,718.2 L402.2,759.2 L419.3,742.5 L437.3,767.1 L453.9,790.7 L471.3,770.8 L488.9,776.5 L506.8,760.9 L522.9,764.6 L541.0,770.8 L558.4,770.8" fill="none" stroke="#D55E00" stroke-width="1.8" stroke-dasharray="4.6 2.3" stroke-linejoin="round"/><circle cx="126.5" cy="766.6" r="3.85" fill="#fff" stroke="#D55E00" stroke-width="1.9"/><circle cx="144.1" cy="757.2" r="3.85" fill="#fff" stroke="#D55E00" stroke-width="1.9"/><circle cx="161.5" cy="749.7" r="3.85" fill="#fff" stroke="#D55E00" stroke-width="1.9"/><circle cx="177.4" cy="761.6" r="3.85" fill="#fff" stroke="#D55E00" stroke-width="1.9"/><circle cx="195.5" cy="763.4" r="3.85" fill="#fff" stroke="#D55E00" stroke-width="1.9"/><circle cx="211.7" cy="761.6" r="3.85" fill="#fff" stroke="#D55E00" stroke-width="1.9"/><circle cx="229.5" cy="751.4" r="3.85" fill="#fff" stroke="#D55E00" stroke-width="1.9"/><circle cx="246.9" cy="764.6" r="3.85" fill="#fff" stroke="#D55E00" stroke-width="1.9"/><circle cx="264.5" cy="767.0" r="3.85" fill="#fff" stroke="#D55E00" stroke-width="1.9"/><circle cx="281.8" cy="759.0" r="3.85" fill="#fff" stroke="#D55E00" stroke-width="1.9"/><circle cx="298.9" cy="768.2" r="3.85" fill="#fff" stroke="#D55E00" stroke-width="1.9"/><circle cx="316.5" cy="758.5" r="3.85" fill="#fff" stroke="#D55E00" stroke-width="1.9"/><circle cx="333.9" cy="740.6" r="3.85" fill="#fff" stroke="#D55E00" stroke-width="1.9"/><circle cx="351.0" cy="756.4" r="3.85" fill="#fff" stroke="#D55E00" stroke-width="1.9"/><circle cx="367.9" cy="744.1" r="3.85" fill="#fff" stroke="#D55E00" stroke-width="1.9"/><circle cx="384.8" cy="718.2" r="3.85" fill="#fff" stroke="#D55E00" stroke-width="1.9"/><circle cx="402.2" cy="759.2" r="3.85" fill="#fff" stroke="#D55E00" stroke-width="1.9"/><circle cx="419.3" cy="742.5" r="3.85" fill="#fff" stroke="#D55E00" stroke-width="1.9"/><circle cx="437.3" cy="767.1" r="3.85" fill="#fff" stroke="#D55E00" stroke-width="1.9"/><circle cx="453.9" cy="790.7" r="3.85" fill="#fff" stroke="#D55E00" stroke-width="1.9"/><circle cx="471.3" cy="770.8" r="3.85" fill="#fff" stroke="#D55E00" stroke-width="1.9"/><circle cx="488.9" cy="776.5" r="3.85" fill="#fff" stroke="#D55E00" stroke-width="1.9"/><circle cx="506.8" cy="760.9" r="3.85" fill="#fff" stroke="#D55E00" stroke-width="1.9"/><circle cx="522.9" cy="764.6" r="3.85" fill="#fff" stroke="#D55E00" stroke-width="1.9"/><circle cx="541.0" cy="770.8" r="3.85" fill="#fff" stroke="#D55E00" stroke-width="1.9"/><circle cx="558.4" cy="770.8" r="3.85" fill="#fff" stroke="#D55E00" stroke-width="1.9"/>
<path d="M146.6,767.1 L160.0,733.6 L178.1,762.1 L194.3,791.9 L211.7,791.9 L228.5,794.4 L246.9,757.2 L263.7,797.0 L282.0,761.0 L298.9,774.7 L317.0,754.8 L334.0,766.7 L351.0,750.0 L367.9,775.9 L386.0,768.0 L402.6,792.0 L420.0,767.0 L436.8,779.5 L453.9,775.0 L471.3,764.1 L489.9,773.8 L506.3,767.1 L522.9,760.9 L541.0,769.6 L558.4,765.8" fill="none" stroke="#0072B2" stroke-width="1.8" stroke-dasharray="4.6 2.3" stroke-linejoin="round"/><path d="M146.6,762.9l4.70,9.10h-9.40z" fill="#fff" stroke="#0072B2" stroke-width="1.85"/><path d="M160.0,729.4l4.70,9.10h-9.40z" fill="#fff" stroke="#0072B2" stroke-width="1.85"/><path d="M178.1,757.9l4.70,9.10h-9.40z" fill="#fff" stroke="#0072B2" stroke-width="1.85"/><path d="M194.3,787.7l4.70,9.10h-9.40z" fill="#fff" stroke="#0072B2" stroke-width="1.85"/><path d="M211.7,787.7l4.70,9.10h-9.40z" fill="#fff" stroke="#0072B2" stroke-width="1.85"/><path d="M228.5,790.2l4.70,9.10h-9.40z" fill="#fff" stroke="#0072B2" stroke-width="1.85"/><path d="M246.9,753.0l4.70,9.10h-9.40z" fill="#fff" stroke="#0072B2" stroke-width="1.85"/><path d="M263.7,792.8l4.70,9.10h-9.40z" fill="#fff" stroke="#0072B2" stroke-width="1.85"/><path d="M282.0,756.8l4.70,9.10h-9.40z" fill="#fff" stroke="#0072B2" stroke-width="1.85"/><path d="M298.9,770.5l4.70,9.10h-9.40z" fill="#fff" stroke="#0072B2" stroke-width="1.85"/><path d="M317.0,750.6l4.70,9.10h-9.40z" fill="#fff" stroke="#0072B2" stroke-width="1.85"/><path d="M334.0,762.5l4.70,9.10h-9.40z" fill="#fff" stroke="#0072B2" stroke-width="1.85"/><path d="M351.0,745.8l4.70,9.10h-9.40z" fill="#fff" stroke="#0072B2" stroke-width="1.85"/><path d="M367.9,771.7l4.70,9.10h-9.40z" fill="#fff" stroke="#0072B2" stroke-width="1.85"/><path d="M386.0,763.8l4.70,9.10h-9.40z" fill="#fff" stroke="#0072B2" stroke-width="1.85"/><path d="M402.6,787.8l4.70,9.10h-9.40z" fill="#fff" stroke="#0072B2" stroke-width="1.85"/><path d="M420.0,762.8l4.70,9.10h-9.40z" fill="#fff" stroke="#0072B2" stroke-width="1.85"/><path d="M436.8,775.3l4.70,9.10h-9.40z" fill="#fff" stroke="#0072B2" stroke-width="1.85"/><path d="M453.9,770.8l4.70,9.10h-9.40z" fill="#fff" stroke="#0072B2" stroke-width="1.85"/><path d="M471.3,759.9l4.70,9.10h-9.40z" fill="#fff" stroke="#0072B2" stroke-width="1.85"/><path d="M489.9,769.6l4.70,9.10h-9.40z" fill="#fff" stroke="#0072B2" stroke-width="1.85"/><path d="M506.3,762.9l4.70,9.10h-9.40z" fill="#fff" stroke="#0072B2" stroke-width="1.85"/><path d="M522.9,756.7l4.70,9.10h-9.40z" fill="#fff" stroke="#0072B2" stroke-width="1.85"/><path d="M541.0,765.4l4.70,9.10h-9.40z" fill="#fff" stroke="#0072B2" stroke-width="1.85"/><path d="M558.4,761.6l4.70,9.10h-9.40z" fill="#fff" stroke="#0072B2" stroke-width="1.85"/>
<path d="M125.5,804.3 L143.9,779.0 L161.5,756.4 L176.9,769.1 L195.5,771.6 L210.9,764.1 L229.5,777.8 L246.9,762.0 L265.5,755.0 L282.3,782.6 L298.4,802.0 L315.8,789.6 L333.9,757.0 L352.3,779.1 L368.6,756.0 L385.3,795.8 L402.6,808.2 L420.0,801.9 L436.8,788.2 L453.4,784.0 L471.3,776.5 L488.9,767.6 L506.8,779.5 L522.9,770.3 L541.0,768.3 L558.4,770.8" fill="none" stroke="#009E73" stroke-width="1.8" stroke-dasharray="4.6 2.3" stroke-linejoin="round"/><path d="M125.5,799.3l4.95,4.95l-4.95,4.95l-4.95,-4.95z" fill="#fff" stroke="#009E73" stroke-width="1.85"/><path d="M143.9,774.0l4.95,4.95l-4.95,4.95l-4.95,-4.95z" fill="#fff" stroke="#009E73" stroke-width="1.85"/><path d="M161.5,751.4l4.95,4.95l-4.95,4.95l-4.95,-4.95z" fill="#fff" stroke="#009E73" stroke-width="1.85"/><path d="M176.9,764.1l4.95,4.95l-4.95,4.95l-4.95,-4.95z" fill="#fff" stroke="#009E73" stroke-width="1.85"/><path d="M195.5,766.6l4.95,4.95l-4.95,4.95l-4.95,-4.95z" fill="#fff" stroke="#009E73" stroke-width="1.85"/><path d="M210.9,759.1l4.95,4.95l-4.95,4.95l-4.95,-4.95z" fill="#fff" stroke="#009E73" stroke-width="1.85"/><path d="M229.5,772.8l4.95,4.95l-4.95,4.95l-4.95,-4.95z" fill="#fff" stroke="#009E73" stroke-width="1.85"/><path d="M246.9,757.0l4.95,4.95l-4.95,4.95l-4.95,-4.95z" fill="#fff" stroke="#009E73" stroke-width="1.85"/><path d="M265.5,750.0l4.95,4.95l-4.95,4.95l-4.95,-4.95z" fill="#fff" stroke="#009E73" stroke-width="1.85"/><path d="M282.3,777.6l4.95,4.95l-4.95,4.95l-4.95,-4.95z" fill="#fff" stroke="#009E73" stroke-width="1.85"/><path d="M298.4,797.0l4.95,4.95l-4.95,4.95l-4.95,-4.95z" fill="#fff" stroke="#009E73" stroke-width="1.85"/><path d="M315.8,784.6l4.95,4.95l-4.95,4.95l-4.95,-4.95z" fill="#fff" stroke="#009E73" stroke-width="1.85"/><path d="M333.9,752.0l4.95,4.95l-4.95,4.95l-4.95,-4.95z" fill="#fff" stroke="#009E73" stroke-width="1.85"/><path d="M352.3,774.1l4.95,4.95l-4.95,4.95l-4.95,-4.95z" fill="#fff" stroke="#009E73" stroke-width="1.85"/><path d="M368.6,751.0l4.95,4.95l-4.95,4.95l-4.95,-4.95z" fill="#fff" stroke="#009E73" stroke-width="1.85"/><path d="M385.3,790.8l4.95,4.95l-4.95,4.95l-4.95,-4.95z" fill="#fff" stroke="#009E73" stroke-width="1.85"/><path d="M402.6,803.2l4.95,4.95l-4.95,4.95l-4.95,-4.95z" fill="#fff" stroke="#009E73" stroke-width="1.85"/><path d="M420.0,796.9l4.95,4.95l-4.95,4.95l-4.95,-4.95z" fill="#fff" stroke="#009E73" stroke-width="1.85"/><path d="M436.8,783.2l4.95,4.95l-4.95,4.95l-4.95,-4.95z" fill="#fff" stroke="#009E73" stroke-width="1.85"/><path d="M453.4,779.0l4.95,4.95l-4.95,4.95l-4.95,-4.95z" fill="#fff" stroke="#009E73" stroke-width="1.85"/><path d="M471.3,771.5l4.95,4.95l-4.95,4.95l-4.95,-4.95z" fill="#fff" stroke="#009E73" stroke-width="1.85"/><path d="M488.9,762.6l4.95,4.95l-4.95,4.95l-4.95,-4.95z" fill="#fff" stroke="#009E73" stroke-width="1.85"/><path d="M506.8,774.5l4.95,4.95l-4.95,4.95l-4.95,-4.95z" fill="#fff" stroke="#009E73" stroke-width="1.85"/><path d="M522.9,765.3l4.95,4.95l-4.95,4.95l-4.95,-4.95z" fill="#fff" stroke="#009E73" stroke-width="1.85"/><path d="M541.0,763.3l4.95,4.95l-4.95,4.95l-4.95,-4.95z" fill="#fff" stroke="#009E73" stroke-width="1.85"/><path d="M558.4,765.8l4.95,4.95l-4.95,4.95l-4.95,-4.95z" fill="#fff" stroke="#009E73" stroke-width="1.85"/>
<path d="M129.3,786.9 L144.1,716.3 L160.0,728.0 L179.4,711.9 L195.5,756.4 L210.4,715.0 L229.5,646.1 L246.9,717.4 L265.5,714.0 L282.3,746.4 L298.9,681.4 L315.0,714.0 L334.4,782.1 L349.8,793.3 L368.6,765.6 L384.8,783.9 L402.6,741.2 L419.5,756.4 L436.8,779.5 L455.2,767.1 L471.3,770.3 L488.2,757.7 L505.6,770.3 L524.2,779.5 L541.5,771.6 L558.4,771.3" fill="none" stroke="#AF58BA" stroke-width="1.8" stroke-dasharray="4.6 2.3" stroke-linejoin="round"/><rect x="125.4" y="782.9" width="7.90" height="7.90" fill="#fff" stroke="#AF58BA" stroke-width="1.8"/><rect x="140.2" y="712.3" width="7.90" height="7.90" fill="#fff" stroke="#AF58BA" stroke-width="1.8"/><rect x="156.1" y="724.0" width="7.90" height="7.90" fill="#fff" stroke="#AF58BA" stroke-width="1.8"/><rect x="175.5" y="707.9" width="7.90" height="7.90" fill="#fff" stroke="#AF58BA" stroke-width="1.8"/><rect x="191.6" y="752.4" width="7.90" height="7.90" fill="#fff" stroke="#AF58BA" stroke-width="1.8"/><rect x="206.5" y="711.0" width="7.90" height="7.90" fill="#fff" stroke="#AF58BA" stroke-width="1.8"/><rect x="225.6" y="642.1" width="7.90" height="7.90" fill="#fff" stroke="#AF58BA" stroke-width="1.8"/><rect x="243.0" y="713.4" width="7.90" height="7.90" fill="#fff" stroke="#AF58BA" stroke-width="1.8"/><rect x="261.6" y="710.0" width="7.90" height="7.90" fill="#fff" stroke="#AF58BA" stroke-width="1.8"/><rect x="278.4" y="742.4" width="7.90" height="7.90" fill="#fff" stroke="#AF58BA" stroke-width="1.8"/><rect x="294.9" y="677.4" width="7.90" height="7.90" fill="#fff" stroke="#AF58BA" stroke-width="1.8"/><rect x="311.1" y="710.0" width="7.90" height="7.90" fill="#fff" stroke="#AF58BA" stroke-width="1.8"/><rect x="330.4" y="778.1" width="7.90" height="7.90" fill="#fff" stroke="#AF58BA" stroke-width="1.8"/><rect x="345.9" y="789.3" width="7.90" height="7.90" fill="#fff" stroke="#AF58BA" stroke-width="1.8"/><rect x="364.7" y="761.6" width="7.90" height="7.90" fill="#fff" stroke="#AF58BA" stroke-width="1.8"/><rect x="380.9" y="779.9" width="7.90" height="7.90" fill="#fff" stroke="#AF58BA" stroke-width="1.8"/><rect x="398.7" y="737.2" width="7.90" height="7.90" fill="#fff" stroke="#AF58BA" stroke-width="1.8"/><rect x="415.6" y="752.4" width="7.90" height="7.90" fill="#fff" stroke="#AF58BA" stroke-width="1.8"/><rect x="432.9" y="775.5" width="7.90" height="7.90" fill="#fff" stroke="#AF58BA" stroke-width="1.8"/><rect x="451.2" y="763.1" width="7.90" height="7.90" fill="#fff" stroke="#AF58BA" stroke-width="1.8"/><rect x="467.4" y="766.3" width="7.90" height="7.90" fill="#fff" stroke="#AF58BA" stroke-width="1.8"/><rect x="484.2" y="753.8" width="7.90" height="7.90" fill="#fff" stroke="#AF58BA" stroke-width="1.8"/><rect x="501.7" y="766.3" width="7.90" height="7.90" fill="#fff" stroke="#AF58BA" stroke-width="1.8"/><rect x="520.2" y="775.5" width="7.90" height="7.90" fill="#fff" stroke="#AF58BA" stroke-width="1.8"/><rect x="537.5" y="767.6" width="7.90" height="7.90" fill="#fff" stroke="#AF58BA" stroke-width="1.8"/><rect x="554.4" y="767.3" width="7.90" height="7.90" fill="#fff" stroke="#AF58BA" stroke-width="1.8"/>
<text x="55.4" y="600.9" font-size="18.4" font-weight="bold" text-anchor="end" textLength="25.6" lengthAdjust="spacingAndGlyphs">1.2</text>
<text x="55.4" y="658.8" font-size="18.4" font-weight="bold" text-anchor="end" textLength="25.6" lengthAdjust="spacingAndGlyphs">1.0</text>
<text x="55.4" y="716.7" font-size="18.4" font-weight="bold" text-anchor="end" textLength="25.6" lengthAdjust="spacingAndGlyphs">0.8</text>
<text x="55.4" y="774.6" font-size="18.4" font-weight="bold" text-anchor="end" textLength="25.6" lengthAdjust="spacingAndGlyphs">0.6</text>
<text x="55.4" y="832.5" font-size="18.4" font-weight="bold" text-anchor="end" textLength="25.6" lengthAdjust="spacingAndGlyphs">0.4</text>
<text x="55.4" y="890.4" font-size="18.4" font-weight="bold" text-anchor="end" textLength="25.6" lengthAdjust="spacingAndGlyphs">0.2</text>
<text x="55.4" y="948.3" font-size="18.4" font-weight="bold" text-anchor="end" textLength="25.6" lengthAdjust="spacingAndGlyphs">0.0</text>
<text x="612.2" y="601.1" font-size="18.4" font-weight="bold" textLength="31.0" lengthAdjust="spacingAndGlyphs">150</text>
<text x="612.2" y="659.0" font-size="18.4" font-weight="bold" textLength="31.0" lengthAdjust="spacingAndGlyphs">100</text>
<text x="612.2" y="716.9" font-size="18.4" font-weight="bold" textLength="20.7" lengthAdjust="spacingAndGlyphs">50</text>
<text x="612.2" y="774.8" font-size="18.4" font-weight="bold" textLength="10.4" lengthAdjust="spacingAndGlyphs">0</text>
<text x="612.2" y="832.7" font-size="18.4" font-weight="bold" textLength="26.4" lengthAdjust="spacingAndGlyphs">-50</text>
<text x="612.2" y="890.6" font-size="18.4" font-weight="bold" textLength="36.8" lengthAdjust="spacingAndGlyphs">-100</text>
<text x="612.2" y="948.5" font-size="18.4" font-weight="bold" textLength="36.8" lengthAdjust="spacingAndGlyphs">-150</text>
<text x="72.2" y="974.3" font-size="18.6" font-weight="bold" text-anchor="middle" textLength="10.0" lengthAdjust="spacingAndGlyphs">2</text>
<text x="106.8" y="974.3" font-size="18.6" font-weight="bold" text-anchor="middle" textLength="10.0" lengthAdjust="spacingAndGlyphs">3</text>
<text x="141.5" y="974.3" font-size="18.6" font-weight="bold" text-anchor="middle" textLength="10.0" lengthAdjust="spacingAndGlyphs">4</text>
<text x="176.1" y="974.3" font-size="18.6" font-weight="bold" text-anchor="middle" textLength="10.0" lengthAdjust="spacingAndGlyphs">5</text>
<text x="210.8" y="974.3" font-size="18.6" font-weight="bold" text-anchor="middle" textLength="10.0" lengthAdjust="spacingAndGlyphs">6</text>
<text x="245.4" y="974.3" font-size="18.6" font-weight="bold" text-anchor="middle" textLength="10.0" lengthAdjust="spacingAndGlyphs">7</text>
<text x="280.1" y="974.3" font-size="18.6" font-weight="bold" text-anchor="middle" textLength="10.0" lengthAdjust="spacingAndGlyphs">8</text>
<text x="314.7" y="974.3" font-size="18.6" font-weight="bold" text-anchor="middle" textLength="10.0" lengthAdjust="spacingAndGlyphs">9</text>
<text x="349.4" y="974.3" font-size="18.6" font-weight="bold" text-anchor="middle" textLength="20.0" lengthAdjust="spacingAndGlyphs">10</text>
<text x="384.0" y="974.3" font-size="18.6" font-weight="bold" text-anchor="middle" textLength="20.0" lengthAdjust="spacingAndGlyphs">11</text>
<text x="418.7" y="974.3" font-size="18.6" font-weight="bold" text-anchor="middle" textLength="20.0" lengthAdjust="spacingAndGlyphs">12</text>
<text x="453.3" y="974.3" font-size="18.6" font-weight="bold" text-anchor="middle" textLength="20.0" lengthAdjust="spacingAndGlyphs">13</text>
<text x="488.0" y="974.3" font-size="18.6" font-weight="bold" text-anchor="middle" textLength="20.0" lengthAdjust="spacingAndGlyphs">14</text>
<text x="522.6" y="974.3" font-size="18.6" font-weight="bold" text-anchor="middle" textLength="20.0" lengthAdjust="spacingAndGlyphs">15</text>
<text x="557.3" y="974.3" font-size="18.6" font-weight="bold" text-anchor="middle" textLength="20.0" lengthAdjust="spacingAndGlyphs">16</text>
<text x="591.9" y="974.3" font-size="18.6" font-weight="bold" text-anchor="middle" textLength="20.0" lengthAdjust="spacingAndGlyphs">17</text>
<text x="17.9" y="877.2" font-size="23.2" font-weight="bold" textLength="68.0" lengthAdjust="spacingAndGlyphs" transform="rotate(-90 17.9 877.2)">Power</text>
<text x="17.9" y="802.5" font-size="23.2" font-weight="bold" textLength="77.2" lengthAdjust="spacingAndGlyphs" transform="rotate(-90 17.9 802.5)">output</text>
<text x="17.9" y="718.6" font-size="23.2" font-weight="bold" textLength="53.6" lengthAdjust="spacingAndGlyphs" transform="rotate(-90 17.9 718.6)">ratio</text>
<text x="680.6" y="941.7" font-size="23.0" font-weight="bold" textLength="68.7" lengthAdjust="spacingAndGlyphs" transform="rotate(-90 680.6 941.7)">Power</text>
<text x="680.6" y="866.6" font-size="23.0" font-weight="bold" textLength="77.4" lengthAdjust="spacingAndGlyphs" transform="rotate(-90 680.6 866.6)">output</text>
<text x="680.6" y="783.7" font-size="23.0" font-weight="bold" textLength="110.1" lengthAdjust="spacingAndGlyphs" transform="rotate(-90 680.6 783.7)">difference</text>
<text x="680.6" y="667.6" font-size="23.0" font-weight="bold" textLength="50.5" lengthAdjust="spacingAndGlyphs" transform="rotate(-90 680.6 667.6)">[kW]</text>
<text x="236.0" y="1001.7" font-size="24.3" font-weight="bold" textLength="57.4" lengthAdjust="spacingAndGlyphs">Wind</text>
<text x="300.8" y="1001.7" font-size="24.3" font-weight="bold" textLength="63.6" lengthAdjust="spacingAndGlyphs">speed</text>
<text x="371.8" y="1001.7" font-size="24.3" font-weight="bold" textLength="59.4" lengthAdjust="spacingAndGlyphs">[m/s]</text>
<text x="276.8" y="1037.6" font-size="24" textLength="29.0" lengthAdjust="spacingAndGlyphs">(b)</text>
<text x="322.0" y="1037.6" font-size="24" textLength="84.6" lengthAdjust="spacingAndGlyphs">HW site</text>
<rect x="65.7" y="549.8" width="537.4" height="30.6" fill="#fff" stroke="#000" stroke-width="1.4"/>
<g transform="translate(97.3 564.6) scale(1 1.14)"><circle r="4.35" fill="#fff" stroke="#D55E00" stroke-width="3"/></g><g transform="translate(169.3 564.6) scale(1 1.14)"><path d="M0,-3.7L4.9,4.8H-4.9Z" fill="#fff" stroke="#0072B2" stroke-width="2.8"/></g><g transform="translate(243.1 564.6) scale(1 1.14)"><path d="M0,-5.1L5.1,0L0,5.1L-5.1,0Z" fill="#fff" stroke="#009E73" stroke-width="2.7"/></g><g transform="translate(317.2 564.6) scale(1 1.14)"><rect x="-5.25" y="-5.25" width="10.5" height="10.5" fill="#fff" stroke="#AF58BA" stroke-width="2.6"/></g><g transform="translate(389.3 564.6) scale(1 1.14)"><rect x="-5.85" y="-5.85" width="11.7" height="11.7" fill="#002060"/></g>
<text x="116.3" y="570.3" font-size="18.8" font-weight="bold" textLength="23.8" lengthAdjust="spacingAndGlyphs">VV</text>
<text x="190.0" y="570.3" font-size="18.8" font-weight="bold" textLength="22.1" lengthAdjust="spacingAndGlyphs">VB</text>
<text x="263.2" y="570.3" font-size="18.8" font-weight="bold" textLength="22.1" lengthAdjust="spacingAndGlyphs">BB</text>
<text x="335.7" y="570.3" font-size="18.8" font-weight="bold" textLength="22.9" lengthAdjust="spacingAndGlyphs">BV</text>
<text x="410.1" y="570.3" font-size="18.8" font-weight="bold" textLength="181.6" lengthAdjust="spacingAndGlyphs">Power curve (no veer)</text>
</svg>
</body></html>
